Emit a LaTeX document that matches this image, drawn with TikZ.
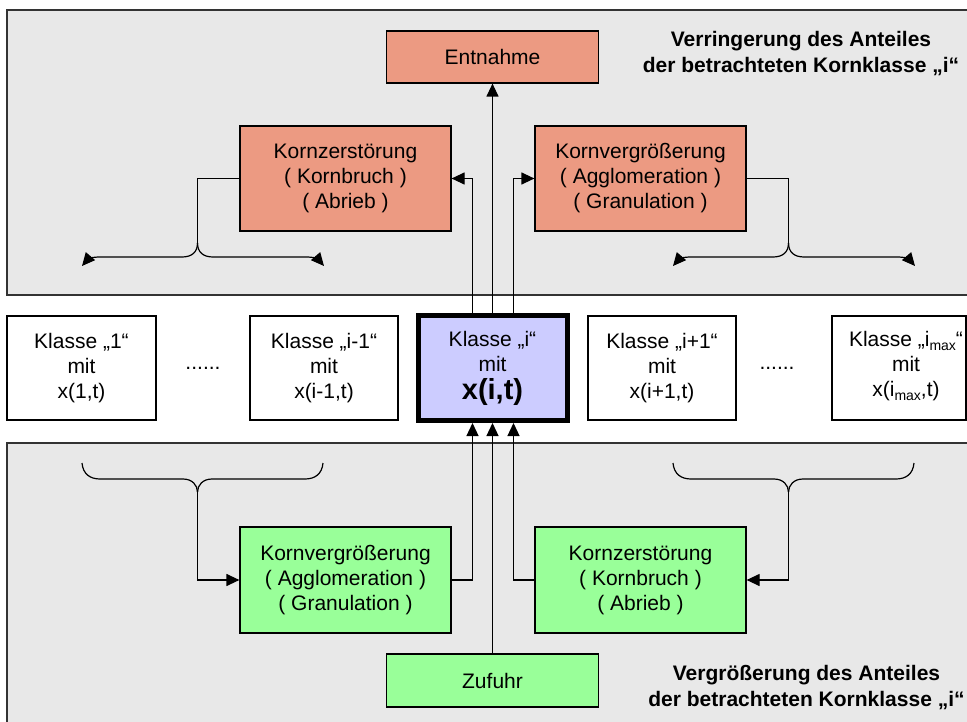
\documentclass[tikz,border=0pt]{standalone}
\usepackage{fontspec}
\setmainfont{Liberation Sans}
\usetikzlibrary{arrows.meta}
\definecolor{panelgray}{RGB}{232,232,232}
\definecolor{salmon}{RGB}{236,154,130}
\definecolor{mintgreen}{RGB}{153,255,153}
\definecolor{lavender}{RGB}{204,204,255}
\newcommand\lowsub[1]{\raisebox{-4pt}{\fontsize{14}{14}\selectfont #1}}
\begin{document}
\begin{tikzpicture}[x=1pt,y=-1pt,
  every node/.style={font=\fontsize{21}{25}\selectfont},
  box/.style={draw=black, line width=1.2pt, inner sep=0pt, align=center},
  hot/.style={box, fill=salmon, minimum width=211pt, minimum height=105pt},
  cool/.style={box, fill=mintgreen, minimum width=211pt, minimum height=106pt},
  klasse/.style={box, fill=white, minimum width=148pt, minimum height=104pt},
  con/.style={line width=1.2pt},
  arr/.style={con, -{Triangle[length=13pt,width=12pt]}},
  panel/.style={fill=panelgray, draw=black!80, line width=1.5pt},
  title/.style={align=center, font=\fontsize{21}{26}\selectfont\bfseries},
]
\useasboundingbox (0,0) rectangle (967,722);
\clip (0,0) rectangle (967,722);

% background panels
\draw[panel] (7,10) rectangle (990,295);
\draw[panel] (7,443) rectangle (990,740);

% decreasing part (top)
\node[box, fill=salmon, minimum width=212pt, minimum height=52pt] (ent) at (492.5,57) {Entnahme};
\node[hot] (kzT) at (345.5,178.5) {Kornzerstörung\\( Kornbruch )\\( Abrieb )};
\node[hot] (kvT) at (640.5,178.5) {Kornvergrößerung\\( Agglomeration )\\( Granulation )};
\node[title] (topT) at (801,53.5) {Verringerung des Anteiles\\der betrachteten Kornklasse „i“};

% size classes
\node[klasse, minimum width=149pt] (k1) at (81.5,368) {Klasse „1“\\mit\\x(1,t)};
\node (d1) at (203,369) [anchor=base] {......};
\node[klasse] (kim) at (324,368) {Klasse „i-1“\\mit\\x(i-1,t)};
\node[box, fill=lavender, line width=5pt, minimum width=149pt, minimum height=105pt] (ci) at (492.5,368)
  {Klasse „i“\\mit\\[3pt]{\fontsize{29}{29}\selectfont\bfseries x(i,t)}};
\node[klasse] (kip) at (662,368) {Klasse „i+1“\\mit\\x(i+1,t)};
\node (d2) at (777,369) [anchor=base] {......};
\node[klasse, minimum width=134pt] (kmax) at (899,368) {};
\node[align=center] (kmaxT) at (906,366) {Klasse „i\lowsub{max}“\\mit\\x(i\lowsub{max},t)};

% increasing part (bottom)
\node[cool] (kvB) at (345.5,580) {Kornvergrößerung\\( Agglomeration )\\( Granulation )};
\node[cool] (kzB) at (640.5,580) {Kornzerstörung\\( Kornbruch )\\( Abrieb )};
\node[box, fill=mintgreen, minimum width=212pt, minimum height=53pt] (zu) at (492.5,680.5) {Zufuhr};
\node[title] (botT) at (806.5,687.5) {Vergrößerung des Anteiles\\der betrachteten Kornklasse „i“};

% flows out of class i
\draw[arr] ([xshift=-20pt]ci.north) |- (kzT.east);
\draw[arr] (ci.north) -- (ent.south);
\draw[arr] ([xshift=21pt]ci.north) |- (kvT.west);

% flows into class i
\draw[arr] (kvB.east) -| ([xshift=-20pt]ci.south);
\draw[arr] (zu.north) -- (ci.south);
\draw[arr] (kzB.west) -| ([xshift=21pt]ci.south);

% braces of the top part: products spread to smaller / larger classes
\coordinate (tlJ) at (197.5,243);
\coordinate (tlL) at (82,266);
\coordinate (tlR) at (324,266);
\draw[con] (kzT.west) -| (tlJ);
\draw[arr] (tlJ) .. controls (197.5,252) and (192,257) .. (182,257) -- (100,257)
  .. controls (92,257) and (88,259) .. (tlL);
\draw[arr] (tlJ) .. controls (197.5,252) and (203,257) .. (213,257) -- (306,257)
  .. controls (314,257) and (318,259) .. (tlR);

\coordinate (trJ) at (788.5,243);
\coordinate (trL) at (673,266);
\coordinate (trR) at (915,266);
\draw[con] (kvT.east) -| (trJ);
\draw[arr] (trJ) .. controls (788.5,252) and (783,257) .. (773,257) -- (691,257)
  .. controls (683,257) and (679,259) .. (trL);
\draw[arr] (trJ) .. controls (788.5,252) and (794,257) .. (804,257) -- (897,257)
  .. controls (905,257) and (909,259) .. (trR);

% braces of the bottom part: neighbouring classes feed class i
\coordinate (blJ) at (197.5,492);
\coordinate (blL) at (82,463);
\coordinate (blR) at (323,463);
\draw[con] (blL) .. controls (83,474) and (90,479) .. (100,479) -- (183,479)
  .. controls (192,479) and (197.5,485) .. (blJ);
\draw[con] (blR) .. controls (322,474) and (315,479) .. (305,479) -- (212,479)
  .. controls (203,479) and (197.5,485) .. (blJ);
\draw[arr] (blJ) |- (kvB.west);

\coordinate (brJ) at (788.5,492);
\coordinate (brL) at (673,463);
\coordinate (brR) at (914,463);
\draw[con] (brL) .. controls (674,474) and (681,479) .. (691,479) -- (774,479)
  .. controls (783,479) and (788.5,485) .. (brJ);
\draw[con] (brR) .. controls (913,474) and (906,479) .. (896,479) -- (803,479)
  .. controls (794,479) and (788.5,485) .. (brJ);
\draw[arr] (brJ) |- (kzB.east);
\end{tikzpicture}
\end{document}
